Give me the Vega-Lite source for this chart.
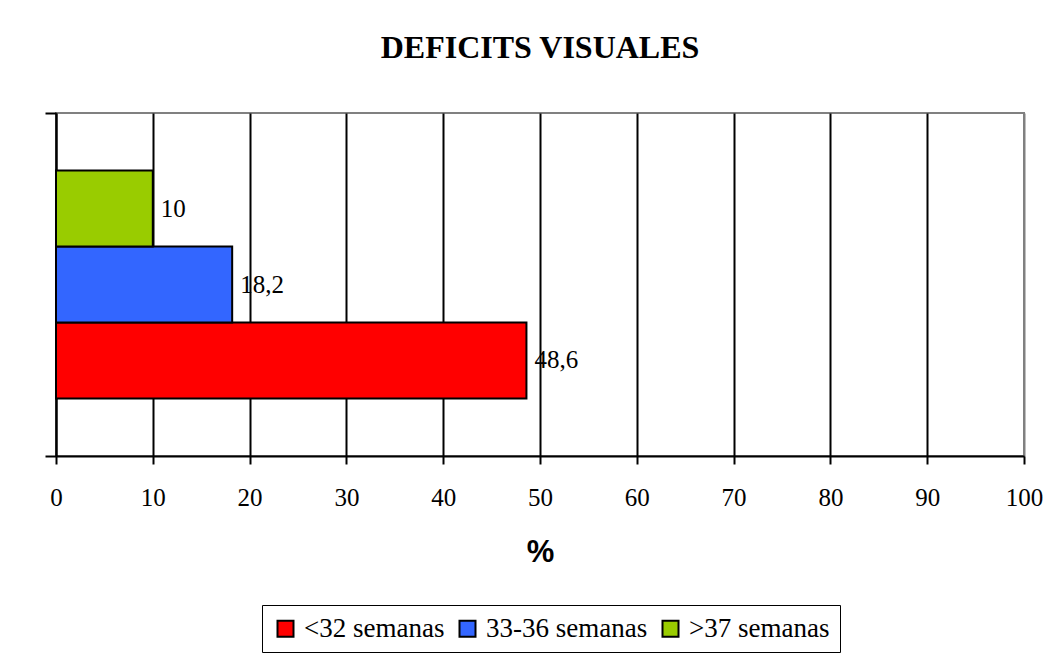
{
  "$schema": "https://vega.github.io/schema/vega-lite/v6.json",
  "width": 968,
  "height": 343,
  "autosize": {"type": "none"},
  "padding": {"left": 56, "top": 113, "right": 35, "bottom": 199},
  "background": "white",
  "title": {"text": "DEFICITS VISUALES", "font": "Liberation Serif", "fontSize": 32, "fontWeight": "bold", "color": "black", "anchor": "middle", "baseline": "bottom", "offset": 15},
  "data": {"values": [
    {"cat": "DEFICITS VISUALES", "group": "<32 semanas", "value": 48.6, "label": "48,6"},
    {"cat": "DEFICITS VISUALES", "group": "33-36 semanas", "value": 18.2, "label": "18,2"},
    {"cat": "DEFICITS VISUALES", "group": ">37 semanas", "value": 10, "label": "10"}
  ]},
  "encoding": {
    "y": {"field": "cat", "type": "nominal", "scale": {"paddingInner": 0, "paddingOuter": 0},
      "axis": {"labels": false, "title": null, "ticks": true, "tickSize": 11, "tickColor": "black", "tickWidth": 2, "domainColor": "black", "domainWidth": 2, "bandPosition": 1, "tickExtra": true, "grid": false}},
    "yOffset": {"field": "group", "type": "nominal", "sort": [">37 semanas", "33-36 semanas", "<32 semanas"], "scale": {"paddingInner": 0, "paddingOuter": 0.757}},
    "x": {"field": "value", "type": "quantitative", "scale": {"domain": [0, 100], "nice": false},
      "axis": {"values": [0,10,20,30,40,50,60,70,80,90,100], "title": "%", "titleFont": "Liberation Sans", "titleFontSize": 31, "titleFontWeight": "bold", "titleColor": "black", "titlePadding": 27,
        "labelFont": "Liberation Serif", "labelFontSize": 25, "labelColor": "black", "labelPadding": 21, "labelFlush": false,
        "tickSize": 8, "tickColor": "black", "tickWidth": 2, "domainColor": "black", "domainWidth": 2,
        "grid": true, "gridColor": {"condition": {"test": "datum.value == 100", "value": "#808080"}, "value": "black"}, "gridWidth": 2, "gridOpacity": 1}}
  },
  "layer": [
    {"mark": {"type": "bar", "stroke": "black", "strokeWidth": 2},
     "encoding": {"color": {"field": "group", "type": "nominal", "sort": ["<32 semanas", "33-36 semanas", ">37 semanas"],
       "scale": {"domain": ["<32 semanas", "33-36 semanas", ">37 semanas"], "range": ["#FF0000", "#3366FF", "#99CC00"]},
       "legend": {"title": null, "orient": "none", "legendX": 206, "legendY": 492, "direction": "horizontal", "strokeColor": "black", "padding": 10,
         "symbolType": "square", "symbolSize": 256, "symbolStrokeColor": "black", "symbolStrokeWidth": 2, "symbolOpacity": 1,
         "labelFont": "Liberation Serif", "labelFontSize": 27, "labelColor": "black", "labelOffset": 5, "columnPadding": 9, "labelLimit": 300}}}},
    {"mark": {"type": "text", "align": "left", "dx": 8, "font": "Liberation Serif", "fontSize": 25, "color": "black"},
     "encoding": {"text": {"field": "label"}}}
  ],
  "config": {"view": {"stroke": "#808080", "strokeWidth": 2}}
}
